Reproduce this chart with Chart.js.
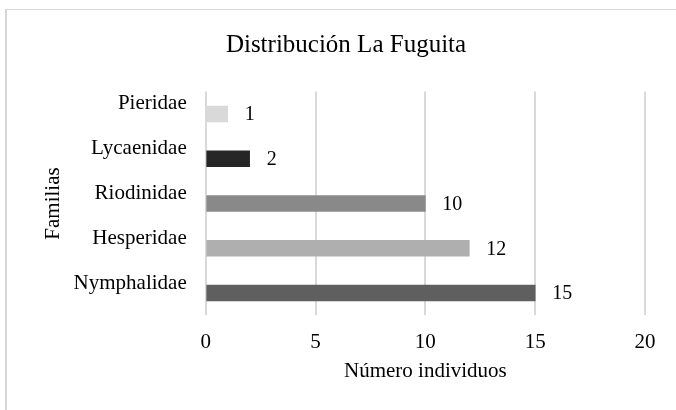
<!DOCTYPE html>
<html>
<head>
<meta charset="utf-8">
<script src="https://cdn.jsdelivr.net/npm/chart.js@4.4.0/dist/chart.umd.min.js"></script>
<style>
  html, body { margin: 0; padding: 0; background: #fff; }
  #wrap { position: relative; width: 676px; height: 410px; }
  #frame {
    position: absolute; left: 5px; top: 9px; right: -2px; bottom: -2px;
    border-top: 1px solid #d6d6d6; border-left: 2px solid #d6d6d6;
    pointer-events: none;
  }
</style>
</head>
<body>
<div id="wrap">
  <canvas id="chart" width="676" height="410"></canvas>
  <div id="frame"></div>
</div>
<script>
const familias = ['Pieridae', 'Lycaenidae', 'Riodinidae', 'Hesperidae', 'Nymphalidae'];
const individuos = [1, 2, 10, 12, 15];
const barColors = ['#d9d9d9', '#262626', '#898989', '#afafaf', '#5f5f5f'];
const xTicks = [0, 5, 10, 15, 20];

const serif = "'Liberation Serif', 'Times New Roman', serif";

// value labels to the right of each bar
const valueLabels = {
    id: 'valueLabels',
    afterDatasetsDraw(chart) {
        const ctx = chart.ctx;
        const meta = chart.getDatasetMeta(0);
        ctx.save();
        ctx.font = '20px ' + serif;
        ctx.fillStyle = '#000';
        ctx.textAlign = 'left';
        ctx.textBaseline = 'middle';
        meta.data.forEach((bar, i) => {
            ctx.fillText(String(individuos[i]), bar.x + 17, bar.y + 1);
        });
        ctx.restore();
    }
};

new Chart(document.getElementById('chart'), {
    type: 'bar',
    data: {
        labels: familias,
        datasets: [{
            label: 'Número individuos',
            data: individuos,
            backgroundColor: barColors,
            borderWidth: 0,
            barThickness: 16,
        }],
    },
    options: {
        indexAxis: 'y',
        responsive: false,
        animation: false,
        layout: { padding: { left: 47, right: 31, top: 0, bottom: 0 } },
        plugins: {
            legend: { display: false },
            tooltip: { enabled: false },
            title: {
                display: true,
                text: 'Distribución La Fuguita',
                color: '#000',
                font: { family: serif, size: 25, weight: 'normal' },
                padding: { top: 30, bottom: 31.6 },
            },
        },
        scales: {
            x: {
                min: 0,
                max: 20,
                afterBuildTicks: (scale) => {
                    scale.ticks = xTicks.map(v => ({ value: v }));
                },
                afterFit: (scale) => { scale.height = 94.6; },
                grid: { color: '#d9d9d9', lineWidth: 2, drawTicks: false },
                border: { display: false },
                ticks: {
                    color: '#000',
                    padding: 14,
                    font: { family: serif, size: 21 },
                },
                title: {
                    display: true,
                    text: 'Número individuos',
                    color: '#000',
                    font: { family: serif, size: 21 },
                    padding: { top: 0, bottom: 26.4 },
                },
            },
            y: {
                afterFit: (scale) => { scale.width = 158.7; },
                grid: { display: false, drawTicks: false },
                border: { display: false },
                ticks: {
                    color: '#000',
                    padding: 19,
                    labelOffset: -10,
                    font: { family: serif, size: 21 },
                },
                title: {
                    display: true,
                    text: 'Familias',
                    color: '#000',
                    font: { family: serif, size: 21 },
                    padding: { top: -6.6, bottom: 0 },
                },
            },
        },
    },
    plugins: [valueLabels],
});
</script>
</body>
</html>
